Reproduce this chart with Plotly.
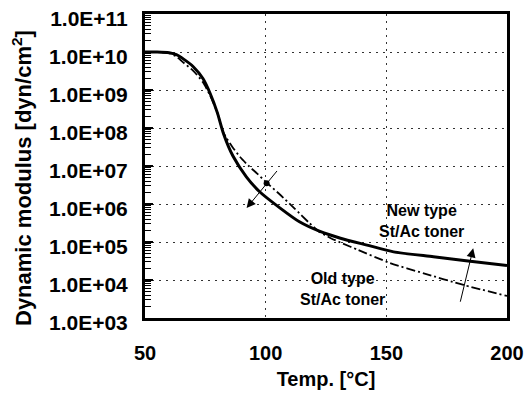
import math
import plotly.graph_objects as go

# --- data ---
temp_new = [50, 55, 60, 63, 66, 70, 74, 77, 80, 82.5, 86.5, 92, 97.5, 106, 114, 122.5, 131, 142, 153, 169.5, 183, 200]
mod_new = [1.0e10, 1.0e10, 9.55e9, 8.5e9, 6.5e9, 4.1e9, 2.0e9, 8.1e8, 2.5e8, 7.2e7, 1.8e7, 5.2e6, 2.1e6,
           7.8e5, 3.4e5, 1.9e5, 1.26e5, 8.3e4, 5.5e4, 4.1e4, 3.2e4, 2.4e4]

temp_old = [50, 55, 60, 63, 66, 70, 74, 77, 80, 82.5, 86, 89.5, 93, 96.5, 100.5, 106, 112, 118, 122, 127, 132,
            138, 151.5, 165.5, 182, 200]
mod_old = [1.0e10, 1.0e10, 9.3e9, 7.6e9, 5.2e9, 3.2e9, 1.6e9, 7.1e8, 2.5e8, 7.6e7, 3.3e7, 1.7e7, 1.0e7, 6.3e6,
           3.6e6, 1.75e6, 7.6e5, 3.2e5, 1.9e5, 1.26e5, 9.1e4, 6.3e4, 2.8e4, 1.5e4, 7.4e3, 3.8e3]

y_tickvals = [1e3, 1e4, 1e5, 1e6, 1e7, 1e8, 1e9, 1e10, 1e11]
y_ticktext = ["1.0E+03", "1.0E+04", "1.0E+05", "1.0E+06", "1.0E+07", "1.0E+08", "1.0E+09", "1.0E+10", "1.0E+11"]
x_tickvals = [50, 100, 150, 200]
x_ticktext = ["50", "100", "150", "200"]

label_new = "New type<br>St/Ac toner"
label_old = "Old type<br>St/Ac toner"
y_title = "Dynamic modulus [dyn/cm<sup>2</sup>]"
x_title = "Temp. [°C]"

# arrows: (tail, head)
arrow1 = ((105.2, 8.1e6), (92.1, 7.8e5))
arrow1_dot = (100.4, 3.5e6)
arrow2 = ((180.5, 2.45e3), (186.0, 6.8e4))

FONT = "Liberation Sans, Arial, sans-serif"
L, R, T, B = 145, 21, 14, 81
W, H = 528, 399


def px_to_paper(px, py):
    return (px - L) / (W - L - R), 1 - (py - T) / (H - T - B)


fig = go.Figure()
fig.add_trace(go.Scatter(x=temp_old, y=mod_old, mode="lines",
                         line=dict(color="black", width=1.8, dash="9px,3px,2px,3px", shape="spline", smoothing=0.6),
                         showlegend=False, hoverinfo="skip"))
fig.add_trace(go.Scatter(x=temp_new, y=mod_new, mode="lines",
                         line=dict(color="black", width=3, shape="spline", smoothing=0.6),
                         showlegend=False, hoverinfo="skip"))
fig.add_trace(go.Scatter(x=[arrow1_dot[0]], y=[arrow1_dot[1]], mode="markers",
                         marker=dict(color="black", size=6), showlegend=False, hoverinfo="skip"))
# invisible trace carrying the overlaid axis that draws the minor ticks
fig.add_trace(go.Scatter(x=temp_new, y=mod_new, yaxis="y2", mode="lines",
                         line=dict(color="rgba(0,0,0,0)", width=0), showlegend=False, hoverinfo="skip"))

for (tx, ty), (hx, hy) in (arrow1, arrow2):
    fig.add_annotation(x=hx, y=math.log10(hy), ax=tx, ay=math.log10(ty), xref="x", yref="y",
                       axref="x", ayref="y", text="", showarrow=True, arrowhead=2, arrowsize=1.8,
                       arrowwidth=1, arrowcolor="black")

for (px, py), txt in (((421, 221), label_new), ((342, 289), label_old)):
    xx, yy = px_to_paper(px, py)
    fig.add_annotation(x=xx, y=yy, xref="paper", yref="paper", xanchor="center", yanchor="middle",
                       text="<b>" + txt + "</b>", showarrow=False,
                       font=dict(family=FONT, size=16, color="black"), align="center")

xx, yy = px_to_paper(22, 178)
fig.add_annotation(x=xx, y=yy, xref="paper", yref="paper", xanchor="center", yanchor="middle",
                   text="<b>" + y_title + "</b>", textangle=-90, showarrow=False,
                   font=dict(family=FONT, size=22, color="black"))

grid = dict(showgrid=True, gridcolor="#333333", gridwidth=1, griddash="2px,5px")

fig.update_xaxes(range=[50, 200], tickvals=x_tickvals, ticktext=["<b>%s</b>" % t for t in x_ticktext],
                 ticks="", showline=True, linewidth=3,
                 linecolor="black", mirror=True, zeroline=False,
                 tickfont=dict(family=FONT, size=20, color="black"), ticklabelstandoff=15,
                 title=dict(text="<b>" + x_title + "</b>", font=dict(family=FONT, size=20, color="black"), standoff=9),
                 automargin=False, **grid)

fig.update_layout(
    yaxis=dict(type="log", range=[3, 11], tickvals=y_tickvals, ticktext=["<b>%s</b>" % t for t in y_ticktext],
               ticks="inside", ticklen=8, tickwidth=1.5, tickcolor="black", ticklabeloverflow="allow",
               showline=True, linewidth=3, linecolor="black", mirror=True, zeroline=False,
               tickfont=dict(family=FONT, size=21, color="black"), ticklabelstandoff=10, ticklabelshift=5,
               automargin=False, **grid),
    yaxis2=dict(type="log", range=[3, 11], overlaying="y", side="left", anchor="x", dtick="D1",
                ticks="inside", ticklen=6, tickwidth=1.2, tickcolor="black", showticklabels=False,
                showgrid=False, showline=False, zeroline=False, automargin=False),
    width=W, height=H, margin=dict(l=L, r=R, t=T, b=B), plot_bgcolor="white",
    paper_bgcolor="white", font=dict(family=FONT, color="black"), showlegend=False)

fig.write_html("out.html", config={"displayModeBar": False},
               post_script="document.body.style.margin='0';document.body.style.overflow='hidden';")
